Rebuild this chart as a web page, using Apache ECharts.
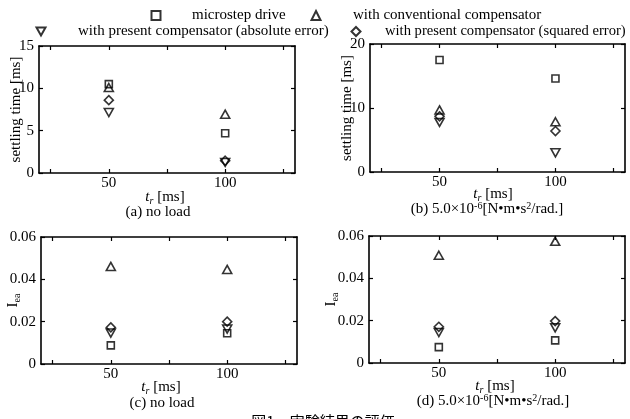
<!DOCTYPE html>
<html><head><meta charset="utf-8">
<script src="https://cdn.jsdelivr.net/npm/echarts@6/dist/echarts.min.js"></script>
<style>html,body{margin:0;padding:0;background:#fff}#c{width:630px;height:419px}</style>
</head><body><div id="c"></div>
<script>
// ---- data ----
const tr = [50, 100];
const seriesNames = ['microstep drive', 'with conventional compensator',
  'with present compensator (absolute error)', 'with present compensator (squared error)'];
// (a) settling time, no load
const aMicro = [10.5, 4.7];
const aConv = [10.1, 6.95];
const aAbs = [7.15, 1.25];
const aSq = [8.6, 1.45];
// (b) settling time, with load
const bMicro = [17.5, 14.6];
const bConv = [9.7, 7.85];
const bAbs = [7.75, 3.0];
const bSq = [8.7, 6.4];
// (c) Iea, no load
const cMicro = [0.0088, 0.0145];
const cConv = [0.0461, 0.0447];
const cAbs = [0.0146, 0.0165];
const cSq = [0.0173, 0.0200];
// (d) Iea, with load
const dMicro = [0.0075, 0.0107];
const dConv = [0.0509, 0.0575];
const dAbs = [0.0144, 0.0166];
const dSq = [0.0171, 0.0198];
const xTickValues = [25, 50, 75, 100, 125];
const xLabelValues = [50, 100];
const yMaxes = [15, 20, 0.06, 0.06];
const yIntervals = [5, 10, 0.02, 0.02];

// ---- layout ----
const FONT = 'Liberation Serif';
const grids = [
  {left: 39, top: 46, width: 256, height: 127},
  {left: 370, top: 44, width: 255, height: 128},
  {left: 41, top: 237, width: 256, height: 127},
  {left: 369, top: 236, width: 256, height: 127}
];
const yNameGaps = [15, 15, 19, 29];
const plotData = [
  [aMicro, aConv, aAbs, aSq],
  [bMicro, bConv, bAbs, bSq],
  [cMicro, cConv, cAbs, cSq],
  [dMicro, dConv, dAbs, dSq]
];
const symbols = ['rect', 'triangle', 'triangle', 'diamond'];
const symbolRot = [0, 0, 180, 0];
const symbolSizes = [[7, 7], [9, 8], [9, 8], [9, 9]];

const lineStyle = {color: '#000', width: 1.6};
const tickStyle = {color: '#000', width: 1.2};
const xAxes = [], yAxes = [], series = [];
grids.forEach((g, i) => {
  const common = {gridIndex: i, type: 'value', min: 20, max: 130,
    axisLine: {show: true, onZero: false, lineStyle},
    axisTick: {show: true, inside: true, length: 4, customValues: xTickValues, lineStyle: tickStyle},
    splitLine: {show: false}};
  xAxes.push(Object.assign({}, common, {position: 'bottom',
    axisLabel: {show: true, customValues: xLabelValues, margin: 3, color: '#000', fontFamily: FONT, fontSize: 15}}));
  xAxes.push(Object.assign({}, common, {position: 'top', axisLabel: {show: false}}));
  const ycommon = {gridIndex: i, type: 'value', min: 0, max: yMaxes[i], interval: yIntervals[i],
    axisLine: {show: true, onZero: false, lineStyle},
    axisTick: {show: true, inside: true, length: 4, lineStyle: tickStyle},
    splitLine: {show: false}};
  const isI = i >= 2;
  yAxes.push(Object.assign({}, ycommon, {position: 'left',
    name: isI ? '{m|I}{s|ea}' : 'settling time [ms]',
    nameLocation: 'middle', nameGap: yNameGaps[i], nameRotate: 90, nameMoveOverlap: false,
    nameTextStyle: {color: '#000', fontFamily: FONT, fontSize: 15,
      rich: {m: {fontFamily: FONT, fontSize: 15, color: '#000', lineHeight: 17},
             s: {fontFamily: FONT, fontSize: 10, color: '#000', lineHeight: 8, verticalAlign: 'bottom'}}},
    axisLabel: {show: true, margin: 5, color: '#000', fontFamily: FONT, fontSize: 15,
      formatter: v => v === 0 ? '0' : (isI ? v.toFixed(2) : String(v))}}));
  yAxes.push(Object.assign({}, ycommon, {position: 'right', axisLabel: {show: false}}));
  plotData[i].forEach((vals, k) => {
    series.push({
      type: 'scatter', name: seriesNames[k], xAxisIndex: 2 * i, yAxisIndex: 2 * i,
      symbol: symbols[k], symbolRotate: symbolRot[k], symbolSize: symbolSizes[k],
      itemStyle: {color: 'rgba(255,255,255,0)', borderColor: '#000', borderWidth: 1.6},
      emphasis: {disabled: true},
      data: tr.map((x, j) => [x, vals[j]])
    });
  });
});

const legendText = {color: '#000', fontFamily: FONT, fontSize: 15};
const legendPos = [
  {left: 150.5, top: 8, pad: 26.5, fs: 15},
  {left: 310.5, top: 8, pad: 27.5, fs: 15},
  {left: 35.5, top: 24, pad: 27.5, fs: 15},
  {left: 350.5, top: 24, pad: 19.5, fs: 14.6}
];
const legends = legendPos.map((p, k) => {
  const item = {name: seriesNames[k]};
  if (k === 2) item.icon = 'path://M0,0L10,0L5,9Z';
  return {
    left: p.left, top: p.top, padding: 0, itemWidth: 9, itemHeight: 9,
    data: [item], selectedMode: false,
    itemStyle: {color: 'rgba(255,255,255,0)', borderColor: '#000', borderWidth: 2},
    textStyle: Object.assign({}, legendText, {fontSize: p.fs, padding: [0, 0, 0, p.pad]})
  };
});

const richBase = {
  i: {fontFamily: FONT, fontSize: 15, fontStyle: 'italic', color: '#000', lineHeight: 18},
  s: {fontFamily: FONT, fontSize: 10, fontStyle: 'italic', color: '#000', lineHeight: 8, verticalAlign: 'bottom'},
  n: {fontFamily: FONT, fontSize: 15, color: '#000', lineHeight: 18},
  c: {fontFamily: FONT, fontSize: 15, color: '#000', lineHeight: 20},
  sup: {fontFamily: FONT, fontSize: 10, color: '#000', lineHeight: 12, verticalAlign: 'top', padding: [2, 0, 0, 0]}
};
function ttl(text, x, y) {
  return {text, left: x, top: y, textAlign: 'center', padding: 0,
    textStyle: {fontFamily: FONT, fontSize: 15, fontWeight: 'normal', color: '#000', rich: richBase}};
}
const titles = [
  ttl('{i|t}{s|r}{n| [ms]}', 165, 188),
  ttl('{c|(a) no load}', 158, 202),
  ttl('{i|t}{s|r}{n| [ms]}', 493, 185),
  ttl('{c|(b) 5.0×10}{sup|-6}{c|[N•m•s}{sup|2}{c|/rad.]}', 487, 199),
  ttl('{i|t}{s|r}{n| [ms]}', 161, 378),
  ttl('{c|(c) no load}', 162, 393),
  ttl('{i|t}{s|r}{n| [ms]}', 495, 377),
  ttl('{c|(d) 5.0×10}{sup|-6}{c|[N•m•s}{sup|2}{c|/rad.]}', 493, 391),
  {text: '図1　実験結果の評価', left: 323, top: 414, textAlign: 'center', padding: 0,
   textStyle: {fontFamily: 'Noto Sans CJK JP', fontSize: 15, fontWeight: 'normal', color: '#000'}}
];

const chart = echarts.init(document.getElementById('c'), null, {renderer: 'canvas'});
chart.setOption({
  animation: false,
  backgroundColor: '#fff',
  title: titles,
  legend: legends,
  grid: grids.map(g => Object.assign({show: false, containLabel: false}, g)),
  xAxis: xAxes,
  yAxis: yAxes,
  series
});
</script></body></html>
